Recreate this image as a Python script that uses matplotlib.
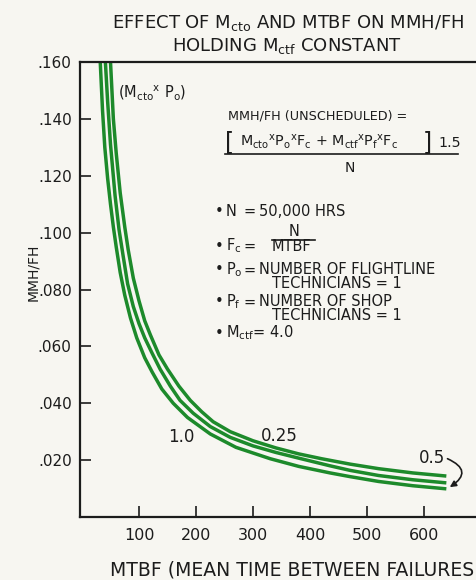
import matplotlib
matplotlib.use("Agg")
import matplotlib.pyplot as plt
from matplotlib.lines import Line2D

plt.rcParams['font.family'] = ['DejaVu Sans']
plt.rcParams['mathtext.default'] = 'regular'

# curves: MTBF (hrs) vs MMH/FH
mtbf_outer = [50, 55, 60, 67, 75, 81, 90, 100, 110, 120, 135, 150, 170, 190,
              210, 230, 260, 300, 340, 380, 420, 470, 520, 580, 639]
mmh_outer = [0.160, 0.140, 0.128, 0.114, 0.102, 0.094, 0.084, 0.076, 0.069,
             0.064, 0.057, 0.052, 0.046, 0.041, 0.037, 0.0335, 0.030, 0.0268,
             0.0243, 0.0222, 0.0205, 0.0186, 0.0170, 0.0155, 0.0144]
mtbf_mid = [41, 45, 50, 58, 65, 72, 80, 90, 100, 110, 122, 137, 155, 172,
            195, 225, 260, 300, 340, 380, 435, 470, 520, 580, 639]
mmh_mid = [0.160, 0.146, 0.131, 0.113, 0.101, 0.092, 0.082, 0.074, 0.068,
           0.063, 0.058, 0.052, 0.046, 0.041, 0.0365, 0.0318, 0.0280, 0.0250,
           0.0227, 0.0207, 0.0180, 0.0164, 0.0146, 0.0131, 0.0120]
mtbf_inner = [32, 36, 40, 45, 50, 55, 60, 67, 75, 85, 96, 110, 123, 140, 160,
              185, 225, 270, 330, 380, 435, 470, 520, 580, 639]
mmh_inner = [0.160, 0.143, 0.130, 0.119, 0.110, 0.102, 0.095, 0.086, 0.078,
             0.070, 0.063, 0.056, 0.051, 0.045, 0.040, 0.0350, 0.0292, 0.0245,
             0.0205, 0.0178, 0.0155, 0.0142, 0.0125, 0.0110, 0.0099]

xticks = [100, 200, 300, 400, 500, 600]
yticks = [0.020, 0.040, 0.060, 0.080, 0.100, 0.120, 0.140, 0.160]
ylabels = ['.020', '.040', '.060', '.080', '.100', '.120', '.140', '.160']

W, H = 476, 580
ink = '#1c1c1c'
green = '#1d8a2b'
paper = '#f7f6f1'

fig = plt.figure(figsize=(W / 100, H / 100), dpi=100, facecolor=paper)
ax = fig.add_axes([80 / W, (H - 517) / H, (W - 80) / W, (517 - 62) / H])
ax.set_facecolor(paper)

for xs, ys in [(mtbf_outer, mmh_outer), (mtbf_mid, mmh_mid), (mtbf_inner, mmh_inner)]:
    ax.plot(xs, ys, color=green, lw=2.5, solid_capstyle='butt', solid_joinstyle='round')

ax.set_xlim(-3.5, 691)
ax.set_ylim(0, 0.160)
ax.spines['right'].set_visible(False)
for s in ['left', 'bottom', 'top']:
    ax.spines[s].set_linewidth(1.6)
    ax.spines[s].set_color(ink)

ax.set_xticks(xticks)
ax.set_xticklabels([str(t) for t in xticks], fontsize=11.5, color=ink)
ax.set_yticks(yticks)
ax.set_yticklabels(ylabels, fontsize=11, color=ink)
ax.tick_params(axis='x', direction='in', length=8, width=1.2, pad=8, colors=ink)
ax.tick_params(axis='y', direction='in', length=8, width=1.2, pad=6, colors=ink)


def put(xp, yp, s, **kw):
    kw.setdefault('color', ink)
    kw.setdefault('va', 'center')
    return fig.text(xp / W, 1 - yp / H, s, **kw)


def hline(x0, x1, yp, lw=1.2):
    fig.add_artist(Line2D([x0 / W, x1 / W], [1 - yp / H, 1 - yp / H],
                          color=ink, lw=lw, transform=fig.transFigure))


# title
put(288, 23, r'EFFECT OF M$_{cto}$ AND MTBF ON MMH/FH', fontsize=13, ha='center')
put(287, 46, r'HOLDING M$_{ctf}$ CONSTANT', fontsize=13, ha='center')

# axis labels
put(110, 570, 'MTBF (MEAN TIME BETWEEN FAILURES', fontsize=13.5, ha='left')
put(33, 272, 'MMH/FH', fontsize=10, ha='center', rotation=90)

# formula block
put(118, 92, r'(M$_{cto}$$^{x}$ P$_{o}$)', fontsize=10.5, ha='left')
put(228, 116, 'MMH/FH (UNSCHEDULED) =', fontsize=9.2, ha='left')
put(225, 142, '[', fontsize=17, ha='left')
put(240, 142, r'M$_{cto}$$^{x}$P$_{o}$$^{x}$F$_{c}$ + M$_{ctf}$$^{x}$P$_{f}$$^{x}$F$_{c}$',
    fontsize=10.3, ha='left')
put(423, 142, ']', fontsize=17, ha='left')
put(438, 143, '1.5', fontsize=10.3, ha='left')
hline(225, 458, 154)
put(350, 168, 'N', fontsize=10, ha='center')

fs = 10.5
put(219, 211, '•', fontsize=fs, ha='center')
put(226, 211, 'N', fontsize=fs, ha='left')
put(244, 211, '=', fontsize=fs, ha='left')
put(259, 211, '50,000 HRS', fontsize=fs, ha='left')

put(294, 232, 'N', fontsize=fs, ha='center')
hline(272, 315, 240)
put(219, 246, '•', fontsize=fs, ha='center')
put(226, 246, r'F$_{c}$', fontsize=fs, ha='left')
put(244, 246, '=', fontsize=fs, ha='left')
put(272, 246, 'MTBF', fontsize=fs, ha='left')

put(219, 270, '•', fontsize=fs, ha='center')
put(226, 270, r'P$_{o}$', fontsize=fs, ha='left')
put(244, 270, '=', fontsize=fs, ha='left')
put(259, 270, 'NUMBER OF FLIGHTLINE', fontsize=fs, ha='left')
put(272, 284, 'TECHNICIANS = 1', fontsize=fs, ha='left')

put(219, 302, '•', fontsize=fs, ha='center')
put(226, 302, r'P$_{f}$', fontsize=fs, ha='left')
put(244, 302, '=', fontsize=fs, ha='left')
put(259, 302, 'NUMBER OF SHOP', fontsize=fs, ha='left')
put(272, 316, 'TECHNICIANS = 1', fontsize=fs, ha='left')

put(219, 333, '•', fontsize=fs, ha='center')
put(226, 333, r'M$_{ctf}$= 4.0', fontsize=fs, ha='left')

# curve labels
ax.text(174, 0.028, '1.0', fontsize=12, color=ink, ha='center', va='center')
ax.text(346, 0.0285, '0.25', fontsize=12, color=ink, ha='center', va='center')
ax.text(614, 0.0207, '0.5', fontsize=12, color=ink, ha='center', va='center')
ax.annotate('', xy=(645, 0.0105), xytext=(641, 0.0205),
            arrowprops=dict(arrowstyle='-|>', color=ink, lw=1.2,
                            connectionstyle='arc3,rad=-0.9',
                            shrinkA=0, shrinkB=0, mutation_scale=9))

fig.savefig('out.png', dpi=100, facecolor=paper)
